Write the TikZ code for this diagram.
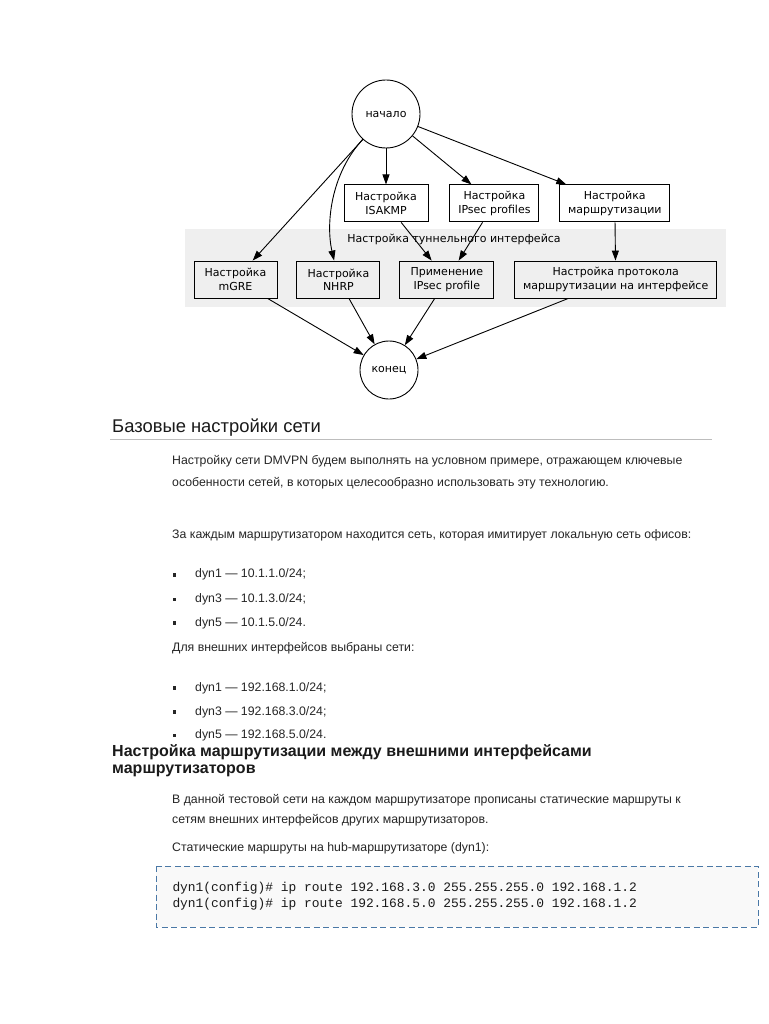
\documentclass[tikz,border=0pt]{standalone}
\usepackage{fontspec}
\setmainfont{Liberation Sans}
\newfontfamily\gvfont{DejaVu Sans}
\newfontfamily\bodyfont{Liberation Sans}
\newfontfamily\codefont{Liberation Mono}
\usetikzlibrary{positioning, arrows.meta, backgrounds, calc}
\definecolor{ink}     {HTML}{1A1A1A}
\definecolor{bodyink} {HTML}{262626}
\definecolor{cluster} {HTML}{EFEFEF}
\definecolor{rulegray}{HTML}{BDBDBD}
\definecolor{codefill}{HTML}{F9F9F9}
\definecolor{codeedge}{HTML}{4A78A6}

\begin{document}
\begin{tikzpicture}[x=1pt, y=-1pt,
      gv/.style   ={font=\gvfont\fontsize{11}{13.3}\selectfont, align=center, text=black},
      state/.style={gv, draw, circle, line width=0.9pt, inner sep=0pt},
      box/.style  ={gv, draw, line width=0.9pt, minimum height=37pt, inner sep=0pt},
      arr/.style  ={-{Triangle[length=10pt, width=7pt]}, line width=0.9pt},
      body/.style ={anchor=base west, inner sep=0pt, text=bodyink,
                    font=\bodyfont\fontsize{12.3}{14}\selectfont},
      dot/.style  ={fill=bodyink, minimum size=3.6pt, inner sep=0pt},
      head/.style ={anchor=base west, inner sep=0pt, text=ink,
                    font=\fontsize{18.4}{21}\selectfont},
      subhead/.style={head, font=\bfseries\fontsize{16}{18}\selectfont},
      code/.style ={anchor=base west, inner sep=0pt, text=ink,
                    font=\codefont\fontsize{12.9}{15}\selectfont},
      codebox/.style={fill=codefill, draw=codeedge, line width=0.9pt,
                      dash pattern=on 6pt off 3.5pt}]

    \useasboundingbox (0,0) rectangle (768,1024);

    % the diagram
    \node[state, minimum size=68pt] (start) at (386,114) {начало};
    \node[box, minimum width=84pt, below=36pt of start]   (isakmp) {Настройка\\ISAKMP};
    \node[box, minimum width=89pt, right=21pt of isakmp]  (ipsecp) {Настройка\\IPsec profiles};
    \node[box, minimum width=110pt, right=20pt of ipsecp] (route)  {Настройка\\маршрутизации};
    \node[box, minimum width=83pt] (mgre) at (235.5,279.5) {Настройка\\mGRE};
    \node[box, minimum width=83pt, right=19pt of mgre]    (nhrp)   {Настройка\\NHRP};
    \node[box, minimum width=94pt, right=19pt of nhrp]    (apply)  {Применение\\IPsec profile};
    \node[box, minimum width=202pt, right=20pt of apply]  (proto)  {Настройка протокола\\маршрутизации на интерфейсе};
    \node[state, minimum size=58pt] (finish) at (389,370) {конец};
    \node[gv, anchor=base] (tunlbl) at (454,242.7) {Настройка туннельного интерфейса};

    \begin{scope}[on background layer]
      \fill[white] (0,0) rectangle (768,1024);
      \fill[cluster] ($(mgre.south west)+(-9,9)$) rectangle ($(proto.north east)+(9,-32)$);
    \end{scope}

    \draw[arr] (start) -- (mgre);
    \draw[arr] (start) .. controls (330,175) and (326,225) .. (nhrp);
    \draw[arr] (start) -- (isakmp);
    \draw[arr] (start) -- (ipsecp);
    \draw[arr] (start) -- (route);
    \draw[arr] (isakmp) -- (apply);
    \draw[arr] (ipsecp) -- (apply);
    \draw[arr] (route)  -- (proto);
    \draw[arr] (mgre)   -- (finish);
    \draw[arr] (nhrp)   -- (finish);
    \draw[arr] (apply)  -- (finish);
    \draw[arr] (proto)  -- (finish);

    % the text below it
    \node[head] (h1) at (112,432.7) {Базовые настройки сети};
    \draw[rulegray, line width=1pt] (110,439.5) -- (712,439.5);

    \node[body] (p1a) at (172,464) {Настройку сети DMVPN будем выполнять на условном примере, отражающем ключевые};
    \node[body] (p1b) at (172,486) {особенности сетей, в которых целесообразно использовать эту технологию.};
    \node[body] (p2)  at (172,538.3) {За каждым маршрутизатором находится сеть, которая имитирует локальную сеть офисов:};

    \node[dot] (d1) at (174.4,575) {};
    \node[dot] (d2) at (174.4,599.3) {};
    \node[dot] (d3) at (174.4,623) {};
    \node[body] (l1) at (195,577.7) {dyn1 — 10.1.1.0/24;};
    \node[body] (l2) at (195,602)   {dyn3 — 10.1.3.0/24;};
    \node[body] (l3) at (195,626)   {dyn5 — 10.1.5.0/24.};

    \node[body] (p3) at (172,651.7) {Для внешних интерфейсов выбраны сети:};

    \node[dot] (d4) at (174.4,688) {};
    \node[dot] (d5) at (174.4,712) {};
    \node[dot] (d6) at (174.4,735.3) {};
    \node[body] (l4) at (195,691)   {dyn1 — 192.168.1.0/24;};
    \node[body] (l5) at (195,715)   {dyn3 — 192.168.3.0/24;};
    \node[body] (l6) at (195,738.3) {dyn5 — 192.168.5.0/24.};

    \node[subhead] (h2a) at (112,756.3) {Настройка маршрутизации между внешними интерфейсами};
    \node[subhead] (h2b) at (112,773)   {маршрутизаторов};

    \node[body] (p4a) at (172,803.7) {В данной тестовой сети на каждом маршрутизаторе прописаны статические маршруты к};
    \node[body] (p4b) at (172,823.7) {сетям внешних интерфейсов других маршрутизаторов.};
    \node[body] (p5)  at (172,851.3) {Статические маршруты на hub-маршрутизаторе (dyn1):};

    \draw[codebox] (156,866) rectangle (758,927);
    \node[code] (c1) at (172.3,891)   {dyn1(config)\# ip route 192.168.3.0 255.255.255.0 192.168.1.2};
    \node[code] (c2) at (172.3,907.3) {dyn1(config)\# ip route 192.168.5.0 255.255.255.0 192.168.1.2};
  \end{tikzpicture}
\end{document}
